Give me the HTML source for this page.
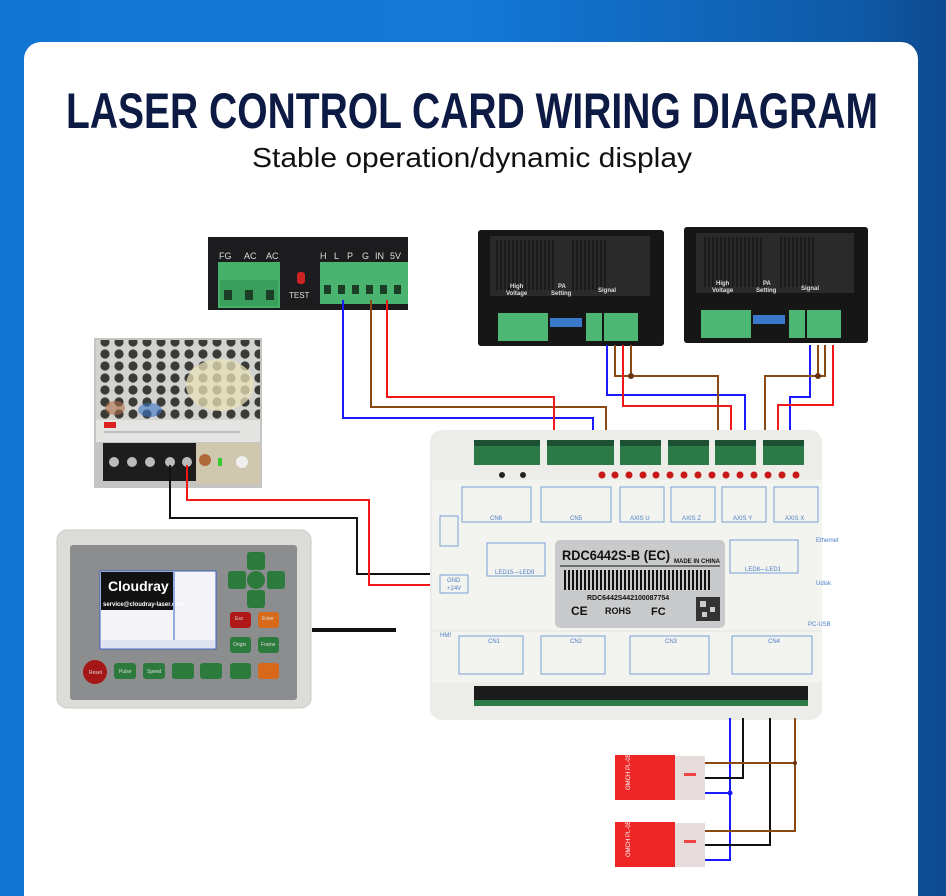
<!DOCTYPE html>
<html><head><meta charset="utf-8"><style>
html,body{margin:0;padding:0;width:946px;height:896px;overflow:hidden}
body{background:linear-gradient(90deg,#1275d3 0%,#1378d6 50%,#0f5aa8 90%,#0d4a8f 100%)}
svg{display:block}
text{font-family:"Liberation Sans",sans-serif}
</style></head><body>
<svg width="946" height="896" viewBox="0 0 946 896" xmlns="http://www.w3.org/2000/svg">
<defs>
<pattern id="hex" width="14" height="12" patternUnits="userSpaceOnUse">
<rect width="14" height="12" fill="#d2d2ce"/>
<circle cx="7" cy="6" r="4.6" fill="#3a3a36"/>
</pattern>
<pattern id="bars" width="4" height="10" patternUnits="userSpaceOnUse">
<rect width="2" height="10" fill="#111"/>
</pattern>
</defs>
<rect x="24" y="42" width="894" height="880" rx="17" fill="#fff"/>
<text x="66" y="128" textLength="812" lengthAdjust="spacingAndGlyphs" font-size="50" font-weight="bold" fill="#0c1a44">LASER CONTROL CARD WIRING DIAGRAM</text>
<text x="252" y="167" textLength="440" lengthAdjust="spacingAndGlyphs" font-size="28" fill="#111">Stable operation/dynamic display</text>

<!-- Laser PSU -->
<rect x="208" y="237" width="200" height="73" fill="#1c1c1e"/>
<g font-family="Liberation Serif" font-size="9" fill="#ddd">
<text x="219" y="259">FG</text><text x="244" y="259">AC</text><text x="266" y="259">AC</text>
<text x="320" y="259">H</text><text x="334" y="259">L</text><text x="347" y="259">P</text><text x="362" y="259">G</text><text x="375" y="259">IN</text><text x="390" y="259">5V</text>
<text x="289" y="298" font-size="8">TEST</text></g>
<rect x="218" y="262" width="62" height="46" fill="#45b06a"/>
<rect x="220" y="280" width="58" height="26" fill="#3a9e5c"/>
<rect x="224" y="290" width="8" height="10" fill="#1c3d26"/><rect x="245" y="290" width="8" height="10" fill="#1c3d26"/><rect x="266" y="290" width="8" height="10" fill="#1c3d26"/>
<rect x="297" y="272" width="8" height="12" rx="3" fill="#c22"/>
<rect x="320" y="262" width="88" height="42" fill="#4ab36f"/>
<g fill="#1c3d26"><rect x="324" y="285" width="7" height="9"/><rect x="338" y="285" width="7" height="9"/><rect x="352" y="285" width="7" height="9"/><rect x="366" y="285" width="7" height="9"/><rect x="380" y="285" width="7" height="9"/><rect x="394" y="285" width="7" height="9"/></g>

<!-- Drivers -->
<g>
<rect x="478" y="230" width="186" height="116" rx="3" fill="#161616"/>
<rect x="490" y="236" width="160" height="60" fill="#2a2a2a"/>
<rect x="496" y="240" width="60" height="50" fill="url(#bars)" opacity=".6"/>
<rect x="572" y="240" width="36" height="50" fill="url(#bars)" opacity=".6"/>
<text x="510" y="288" font-size="6" font-weight="bold" fill="#ddd">High</text>
<text x="506" y="295" font-size="6" font-weight="bold" fill="#ddd">Voltage</text>
<text x="558" y="288" font-size="6" font-weight="bold" fill="#ddd">PA</text>
<text x="551" y="295" font-size="6" font-weight="bold" fill="#ddd">Setting</text>
<text x="598" y="292" font-size="6" font-weight="bold" fill="#ddd">Signal</text>
<rect x="498" y="313" width="50" height="28" fill="#4cb672"/>
<rect x="550" y="318" width="32" height="9" fill="#3a78c9"/>
<rect x="586" y="313" width="16" height="28" fill="#4cb672"/>
<rect x="604" y="313" width="34" height="28" fill="#4cb672"/>
</g>
<g>
<rect x="684" y="227" width="184" height="116" rx="3" fill="#161616"/>
<rect x="696" y="233" width="158" height="60" fill="#2a2a2a"/>
<rect x="702" y="237" width="60" height="50" fill="url(#bars)" opacity=".6"/>
<rect x="778" y="237" width="36" height="50" fill="url(#bars)" opacity=".6"/>
<text x="716" y="285" font-size="6" font-weight="bold" fill="#ddd">High</text>
<text x="712" y="292" font-size="6" font-weight="bold" fill="#ddd">Voltage</text>
<text x="763" y="285" font-size="6" font-weight="bold" fill="#ddd">PA</text>
<text x="756" y="292" font-size="6" font-weight="bold" fill="#ddd">Setting</text>
<text x="801" y="290" font-size="6" font-weight="bold" fill="#ddd">Signal</text>
<rect x="701" y="310" width="50" height="28" fill="#4cb672"/>
<rect x="753" y="315" width="32" height="9" fill="#3a78c9"/>
<rect x="789" y="310" width="16" height="28" fill="#4cb672"/>
<rect x="807" y="310" width="34" height="28" fill="#4cb672"/>
</g>

<!-- Wires top -->
<g fill="none" stroke-width="2">
<polyline points="343,300 343,418 593,418 593,435" stroke="#1a1aff"/>
<polyline points="371,300 371,407 606,407 606,435" stroke="#8a4a14"/>
<polyline points="387,300 387,397 554,397 554,435" stroke="#f01818"/>
<polyline points="607,345 607,395 745,395 745,435" stroke="#1a1aff"/>
<polyline points="615,345 615,376 718,376 718,435" stroke="#8a4a14"/>
<polyline points="631,345 631,376" stroke="#8a4a14"/>
<polyline points="623,345 623,406 731,406 731,435" stroke="#f01818"/>
<polyline points="810,345 810,397 790,397 790,435" stroke="#1a1aff"/>
<polyline points="825,345 825,376 765,376 765,435" stroke="#8a4a14"/>
<polyline points="818,345 818,376" stroke="#8a4a14"/>
<polyline points="833,345 833,405 778,405 778,435" stroke="#f01818"/>
</g>
<circle cx="631" cy="376" r="3" fill="#6a3410"/><circle cx="818" cy="376" r="3" fill="#6a3410"/>

<!-- small PSU -->
<rect x="94" y="338" width="168" height="150" fill="#c4c5c2"/>
<rect x="96" y="340" width="164" height="80" fill="url(#hex)"/>
<ellipse cx="220" cy="385" rx="34" ry="26" fill="#e8e2b8" opacity=".75"/>
<ellipse cx="150" cy="410" rx="12" ry="7" fill="#3a78c9" opacity=".6"/>
<ellipse cx="115" cy="408" rx="10" ry="7" fill="#b0704a" opacity=".6"/>
<rect x="96" y="420" width="164" height="22" fill="#e4e4e2"/>
<rect x="104" y="422" width="12" height="6" fill="#d22"/>
<line x1="104" y1="432" x2="240" y2="432" stroke="#999" stroke-width="1"/>
<rect x="103" y="443" width="93" height="38" fill="#1d1d1d"/>
<g fill="#bbb"><circle cx="114" cy="462" r="5"/><circle cx="132" cy="462" r="5"/><circle cx="150" cy="462" r="5"/><circle cx="170" cy="462" r="5"/><circle cx="187" cy="462" r="5"/></g>
<rect x="196" y="443" width="64" height="41" fill="#cfc8ae"/>
<circle cx="205" cy="460" r="6" fill="#b06a3a"/>
<rect x="218" y="458" width="4" height="8" fill="#3c3"/>
<circle cx="242" cy="462" r="6" fill="#eee"/>

<g fill="none" stroke-width="2">
<polyline points="170,465 170,518 357,518 357,574 430,574" stroke="#111"/>
<polyline points="187,465 187,500 369,500 369,585 430,585" stroke="#f01818"/>
</g>

<!-- controller -->
<rect x="312" y="628" width="84" height="4" fill="#111"/>
<rect x="57" y="530" width="254" height="178" rx="10" fill="#dcdcd8" stroke="#c8c8c4"/>
<rect x="70" y="545" width="227" height="155" rx="3" fill="#8b8d8f"/>
<rect x="100" y="571" width="116" height="78" fill="#f4f4f8" stroke="#3a5ec2"/>
<rect x="101" y="572" width="72" height="38" fill="#111"/>
<text x="108" y="591" font-size="14" font-weight="bold" fill="#fff">Cloudray</text>
<text x="103" y="606" font-size="6" font-weight="bold" fill="#fff">service@cloudray-laser.com</text>
<line x1="174" y1="572" x2="174" y2="640" stroke="#3a5ec2"/>
<rect x="101" y="640" width="114" height="8" fill="#e0e4f0"/>
<g fill="#2d7a3d">
<rect x="247" y="552" width="18" height="18" rx="3"/><rect x="247" y="590" width="18" height="18" rx="3"/>
<rect x="228" y="571" width="18" height="18" rx="3"/><rect x="267" y="571" width="18" height="18" rx="3"/>
<circle cx="256" cy="580" r="9"/>
<rect x="230" y="637" width="21" height="16" rx="3"/><rect x="258" y="637" width="21" height="16" rx="3"/>
<rect x="114" y="663" width="22" height="16" rx="3"/><rect x="143" y="663" width="22" height="16" rx="3"/><rect x="172" y="663" width="22" height="16" rx="3"/><rect x="200" y="663" width="22" height="16" rx="3"/><rect x="230" y="663" width="21" height="16" rx="3"/>
</g>
<rect x="230" y="612" width="21" height="16" rx="3" fill="#b01818"/>
<rect x="258" y="612" width="21" height="16" rx="3" fill="#d9691a"/>
<rect x="258" y="663" width="21" height="16" rx="3" fill="#d9691a"/>
<circle cx="95" cy="672" r="12" fill="#a51616"/>
<g font-size="5" fill="#ddd"><text x="89" y="674">Reset</text><text x="119" y="673">Pulse</text><text x="147" y="673">Speed</text><text x="235" y="620">Esc</text><text x="262" y="620">Enter</text><text x="233" y="646">Origin</text><text x="261" y="646">Frame</text></g>

<!-- Main board -->
<rect x="430" y="430" width="392" height="290" rx="12" fill="#ecece8"/>
<rect x="432" y="480" width="390" height="150" fill="#f3f3f0"/>
<rect x="432" y="632" width="390" height="50" fill="#f3f3f0"/>
<g fill="#2c7a48">
<rect x="474" y="440" width="66" height="25"/><rect x="547" y="440" width="67" height="25"/>
<rect x="620" y="440" width="41" height="25"/><rect x="668" y="440" width="41" height="25"/>
<rect x="715" y="440" width="41" height="25"/><rect x="763" y="440" width="41" height="25"/>
</g>
<g fill="#1c5032"><rect x="474" y="440" width="66" height="6"/><rect x="547" y="440" width="67" height="6"/><rect x="620" y="440" width="41" height="6"/><rect x="668" y="440" width="41" height="6"/><rect x="715" y="440" width="41" height="6"/><rect x="763" y="440" width="41" height="6"/></g>
<circle cx="502" cy="475" r="3" fill="#222"/><circle cx="523" cy="475" r="3" fill="#222"/>
<g fill="#c81818">
<circle cx="602" cy="475" r="3.5"/><circle cx="615" cy="475" r="3.5"/><circle cx="629" cy="475" r="3.5"/><circle cx="643" cy="475" r="3.5"/><circle cx="656" cy="475" r="3.5"/><circle cx="670" cy="475" r="3.5"/><circle cx="684" cy="475" r="3.5"/><circle cx="698" cy="475" r="3.5"/><circle cx="712" cy="475" r="3.5"/><circle cx="726" cy="475" r="3.5"/><circle cx="740" cy="475" r="3.5"/><circle cx="754" cy="475" r="3.5"/><circle cx="768" cy="475" r="3.5"/><circle cx="782" cy="475" r="3.5"/><circle cx="796" cy="475" r="3.5"/></g>
<g fill="none" stroke="#5a8fd0" stroke-width="0.8">
<rect x="462" y="487" width="69" height="35"/><rect x="541" y="487" width="70" height="35"/>
<rect x="620" y="487" width="44" height="35"/><rect x="671" y="487" width="44" height="35"/><rect x="722" y="487" width="44" height="35"/><rect x="774" y="487" width="44" height="35"/>
<rect x="487" y="543" width="58" height="33"/><rect x="730" y="540" width="68" height="33"/>
<rect x="440" y="575" width="28" height="18"/><rect x="440" y="516" width="18" height="30"/>
<rect x="459" y="636" width="64" height="38"/><rect x="541" y="636" width="64" height="38"/><rect x="630" y="636" width="79" height="38"/><rect x="732" y="636" width="80" height="38"/>
</g>
<g font-family="Liberation Serif" font-size="6" fill="#4a7fc4">
<text x="490" y="520">CN6</text><text x="570" y="520">CN5</text><text x="630" y="520">AXIS U</text><text x="682" y="520">AXIS Z</text><text x="733" y="520">AXIS Y</text><text x="785" y="520">AXIS X</text>
<text x="495" y="574">LED15—LED9</text><text x="745" y="571">LED8—LED1</text>
<text x="816" y="542">Ethernet</text><text x="816" y="585">Udisk</text><text x="808" y="626">PC-USB</text><text x="440" y="637">HMI</text>
<text x="488" y="643">CN1</text><text x="570" y="643">CN2</text><text x="665" y="643">CN3</text><text x="768" y="643">CN4</text>
<text x="447" y="582">GND</text><text x="447" y="590">+24V</text>
</g>
<rect x="555" y="540" width="170" height="88" rx="5" fill="#c9cacc"/>
<text x="562" y="560" font-size="14" font-weight="bold" fill="#111" textLength="108" lengthAdjust="spacingAndGlyphs">RDC6442S-B (EC)</text>
<text x="674" y="563" font-size="6" font-weight="bold" fill="#111">MADE IN CHINA</text>
<line x1="560" y1="566" x2="720" y2="566" stroke="#111"/>
<rect x="562" y="570" width="148" height="20" fill="url(#bars)"/>
<text x="587" y="600" font-size="7" font-weight="bold" fill="#111">RDC6442S442100087754</text>
<text x="571" y="615" font-size="12" font-weight="bold" fill="#111">CE</text>
<text x="605" y="614" font-size="9" font-weight="bold" fill="#111">ROHS</text>
<text x="651" y="615" font-size="11" font-weight="bold" fill="#111">FC</text>
<rect x="696" y="597" width="24" height="24" fill="#333"/>
<rect x="700" y="601" width="6" height="6" fill="#ccc"/><rect x="710" y="607" width="5" height="5" fill="#ccc"/><rect x="702" y="612" width="5" height="5" fill="#ccc"/>
<rect x="474" y="686" width="334" height="20" fill="#1b1b1b"/>
<rect x="474" y="700" width="334" height="6" fill="#2b7a48"/>

<!-- bottom wires & relays -->
<g fill="none" stroke-width="2">
<polyline points="730,718 730,793 704,793" stroke="#1a1aff"/>
<polyline points="730,793 730,860 704,860" stroke="#1a1aff"/>
<polyline points="743,718 743,778 704,778" stroke="#111"/>
<polyline points="770,718 770,845 704,845" stroke="#111"/>
<polyline points="795,718 795,831 704,831" stroke="#8a4a14"/>
<polyline points="795,763 704,763" stroke="#8a4a14"/>
</g>
<circle cx="730" cy="793" r="2.5" fill="#1a1aff"/><circle cx="795" cy="763" r="2" fill="#6a3410"/>
<rect x="615" y="755" width="60" height="45" fill="#ee2626"/>
<rect x="675" y="756" width="30" height="44" fill="#e6dcdc"/>
<rect x="684" y="773" width="12" height="3" fill="#e44"/>
<rect x="615" y="822" width="60" height="45" fill="#ee2626"/>
<rect x="675" y="823" width="30" height="44" fill="#e6dcdc"/>
<rect x="684" y="840" width="12" height="3" fill="#e44"/>
<g font-size="6" fill="#fff"><text x="630" y="790" transform="rotate(-90 630 790)">OMCH PL-05N</text><text x="630" y="857" transform="rotate(-90 630 857)">OMCH PL-05N</text></g>
</svg>
</body></html>
